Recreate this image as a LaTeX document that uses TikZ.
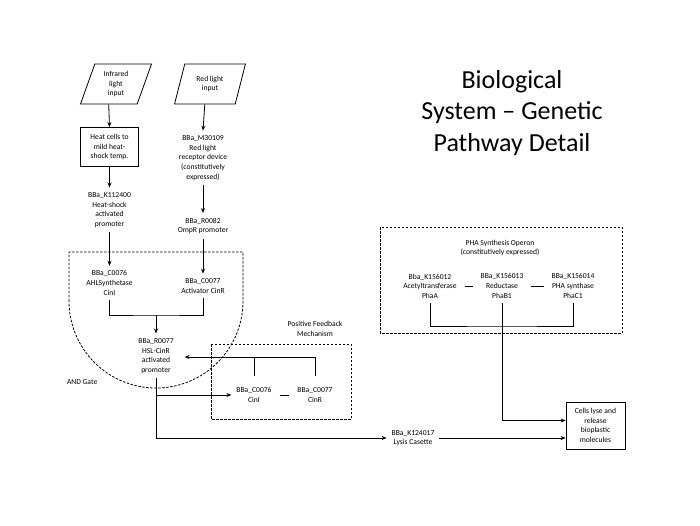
\documentclass[tikz,border=0pt]{standalone}
\usepackage{fontspec}
\setmainfont{Carlito}
\usetikzlibrary{shapes.geometric,arrows.meta}

\begin{document}
\begin{tikzpicture}[x=1pt,y=-1pt,line width=0.8pt,
		lbl/.style={align=center, inner sep=0pt, outer sep=5pt, font=\fontsize{7.6}{9.6}\selectfont},
		inbox/.style={draw, trapezium, trapezium left angle=72, trapezium right angle=108, trapezium stretches=true, minimum width=71pt, minimum height=40pt, inner sep=1pt, align=center, font=\fontsize{7.6}{9.6}\selectfont},
		stepbox/.style={draw, minimum width=58pt, minimum height=39pt, inner sep=1pt, align=center, font=\fontsize{7.6}{9.6}\selectfont},
		flow/.style={-{Stealth[length=5pt,width=4pt]}},
		zone/.style={dash pattern=on 2.5pt off 1.5pt}]
		\useasboundingbox (0,0) rectangle (700,525);

		% title
		\node[align=center, font=\fontsize{26}{31.5}\selectfont] (title) at (512,113) {Biological\\System -- Genetic\\Pathway Detail};

		% inputs
		\node[inbox] (infra) at (116,84) {Infrared\\light\\input};
		\node[inbox] (red) at (210,84) {Red light\\input};
		\node[stepbox] (heat) at (109.5,147) {Heat cells to\\mild heat-\\shock temp.};
		\node[lbl] (m30) at (203,158) {BBa\_M30109\\Red light\\receptor device\\(constitutively\\expressed)};
		\node[lbl] (k112) at (109.5,210) {BBa\_K112400\\Heat-shock\\activated\\promoter};
		\node[lbl] (r82) at (203,226) {BBa\_R0082\\OmpR promoter};

		% AND gate
		\node[lbl] (c76) at (109.5,283) {BBa\_C0076\\AHLSynthetase\\CinI};
		\node[lbl] (c77) at (203,286) {BBa\_C0077\\Activator CinR};
		\node[lbl] (r77) at (156,356) {BBa\_R0077\\HSL-CinR\\activated\\promoter};
		\node[lbl, anchor=west] (andlbl) at (62,382) {AND Gate};
		\coordinate (andj) at (156,315);
		\draw[zone] (69,301) -- (69,252) -- (243,252) -- (243,301) arc[start angle=0, end angle=-180, radius=87pt] -- cycle;

		% positive feedback
		\node[lbl] (fblbl) at (315,329) {Positive Feedback\\Mechanism};
		\node[lbl] (fb76) at (254,395) {BBa\_C0076\\CinI};
		\node[lbl] (fb77) at (315,395) {BBa\_C0077\\CinR};
		\coordinate (fbtop) at (315,357);
		\draw[zone] (211,344) rectangle (351,419);

		% PHA operon
		\node[lbl] (phalbl) at (500,248) {PHA Synthesis Operon\\(constitutively expressed)};
		\node[lbl] (phaA) at (430,286) {Bba\_K156012\\Acetyltransferase\\PhaA};
		\node[lbl] (phaB) at (502,286) {BBa\_K156013\\Reductase\\PhaB1};
		\node[lbl] (phaC) at (573,286) {BBa\_K156014\\PHA synthase\\PhaC1};
		\coordinate (phaj) at (502,326);
		\draw[zone] (380,227) rectangle (622,333);

		% outputs
		\node[lbl] (lysis) at (413,438) {BBa\_K124017\\Lysis Casette};
		\node[stepbox, minimum width=59pt, minimum height=47pt] (cells) at (595.5,425.5) {Cells lyse and\\release\\bioplastic\\molecules};

		% connectors
		\draw[flow] (infra.bottom side) -- (heat.north);
		\draw[flow] (heat.south) -- (k112.north);
		\draw[flow] (red.bottom side) -- (m30.north);
		\draw[flow] (m30.south) -- (r82.north);
		\draw[flow] (k112.south) -- (c76.north);
		\draw[flow] (r82.south) -- (c77.north);
		\draw (c76.south) |- (andj) -| (c77.south);
		\draw[flow] (andj) -- (r77.north);
		\draw[shorten <=7pt] (fb76.north) -- (fb76.north |- fbtop);
		\draw[shorten <=7pt] (fb77.north) -- (fbtop);
		\draw[flow, shorten >=6pt] (fbtop) -- (r77.east |- fbtop);
		\draw[shorten <=3pt, shorten >=3pt] (fb76.east) -- (fb77.west);
		\draw[flow] (r77.south) |- (lysis.west);
		\draw[flow] (r77.south |- fb76.west) -- (fb76.west);
		\draw[flow] (lysis.east) -- (cells.west |- lysis.east);
		\draw (phaA.south) |- (phaj) -| (phaC.south);
		\draw[flow] (phaB.south) |- ([yshift=5pt]cells.west);
		\draw[shorten <=3pt, shorten >=3pt] (phaA.east) -- (phaB.west);
		\draw[shorten <=3pt, shorten >=3pt] (phaB.east) -- (phaC.west);
	\end{tikzpicture}
\end{document}
